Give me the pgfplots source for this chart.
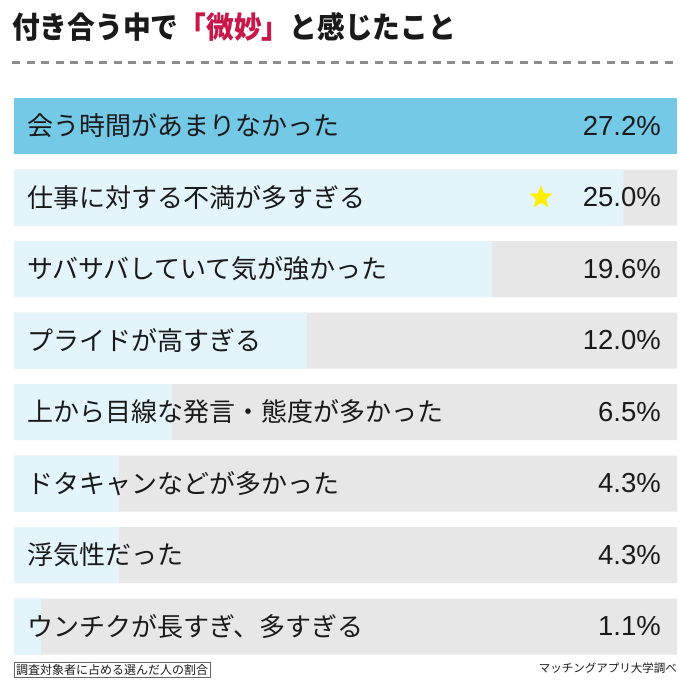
\documentclass[border=0pt]{standalone}
\usepackage{pgfplots}
\pgfplotsset{compat=1.18}
\usepackage{pgfplotstable}
\usepackage{fontspec}
\setmainfont{Liberation Sans}
\newfontfamily\jp{Noto Sans CJK JP}
\newfontfamily\jptitle{Noto Sans CJK JP}[FakeStretch=0.925]
\usetikzlibrary{shapes.geometric}
\definecolor{barblue}{HTML}{74C9E7}
\definecolor{barlight}{HTML}{E4F4FB}
\definecolor{bargray}{HTML}{E7E7E7}
\definecolor{titlered}{HTML}{C8184A}
\definecolor{txt}{HTML}{1A1A1A}
\definecolor{staryellow}{HTML}{FFEE00}

\pgfplotstableread{
idx value full
0 27.2 27.2
1 25.0 27.2
2 19.6 27.2
3 12.0 27.2
4 6.5 27.2
5 4.3 27.2
6 4.3 27.2
7 1.1 27.2
}\datatable

\begin{document}
\begin{tikzpicture}
\useasboundingbox (0,0) rectangle (690pt,-691pt);
\fill[white] (0,0) rectangle (690pt,-691pt);
\node[anchor=west, inner sep=0pt, text=txt] at (12pt,-27pt) {\jptitle\bfseries\fontsize{30pt}{30pt}\selectfont 付き合う中で{\color{titlered}「微妙」}と感じたこと};
\draw[black!45, line width=3pt, dash pattern=on 8pt off 6.5pt] (12pt,-62pt) -- (678pt,-62pt);
\begin{axis}[
  at={(14pt,-98pt)}, anchor=north west,
  scale only axis, width=663pt, height=556.5pt,
  xmin=0, xmax=27.2, ymin=-0.3916, ymax=7.3916,
  y dir=reverse, hide axis, clip=false,
  xbar, bar width=56pt, bar shift=0pt,
]
\addplot[draw=none, fill=bargray,
  point meta=explicit,
  nodes near coords={\pgfmathprintnumber[fixed,fixed zerofill,precision=1,assume math mode=true]{\pgfplotspointmeta}\%},
  every node near coord/.append style={anchor=east, xshift=-16pt, inner sep=0pt, font=\fontsize{27.5pt}{28pt}\selectfont, text=txt}
] table[x=full, y=idx, meta=value] {\datatable};
\addplot[draw=none, fill=barlight] table[x=value, y=idx] {\datatable};
\addplot[draw=none, fill=barblue] coordinates {(27.2,0)};
\node[star, star points=5, star point ratio=2.4, fill=staryellow, minimum size=25pt, inner sep=0pt, rounded corners=1pt] at (axis cs:21.62,1) {};
\begin{scope}[every node/.style={anchor=west, inner sep=0pt, xshift=13pt, text=txt, font=\jp\fontsize{26pt}{26pt}\selectfont}]
\node at (axis cs:0,0) {会う時間があまりなかった};
\node at (axis cs:0,1) {仕事に対する不満が多すぎる};
\node at (axis cs:0,2) {サバサバしていて気が強かった};
\node at (axis cs:0,3) {プライドが高すぎる};
\node at (axis cs:0,4) {上から目線な発言・態度が多かった};
\node at (axis cs:0,5) {ドタキャンなどが多かった};
\node at (axis cs:0,6) {浮気性だった};
\node at (axis cs:0,7) {ウンチクが長すぎ、多すぎる};
\end{scope}
\end{axis}
\node[draw=black!60, anchor=west, inner sep=2pt, text=txt] at (14pt,-670pt) {\jp\fontsize{12pt}{12pt}\selectfont 調査対象者に占める選んだ人の割合};
\node[anchor=east, inner sep=0pt, text=txt] at (677pt,-668pt) {\jp\fontsize{11.5pt}{12pt}\selectfont マッチングアプリ大学調べ};
\end{tikzpicture}
\end{document}
